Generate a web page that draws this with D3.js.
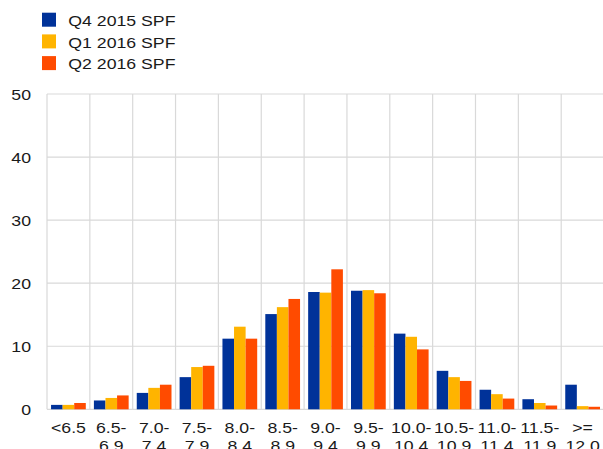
<!DOCTYPE html>
<meta charset="utf-8">
<script src="https://d3js.org/d3.v7.min.js"></script>
<style>
  body { margin: 0; background: #fff; }
  text { font-family: "Liberation Sans", Arial, sans-serif; fill: #1a1a1a; }
</style>
<div id="my_dataviz"></div>
<script>

// categories (two-line labels)
var categories = ["<6.5", "6.5-6.9", "7.0-7.4", "7.5-7.9", "8.0-8.4", "8.5-8.9", "9.0-9.4",
                  "9.5-9.9", "10.0-10.4", "10.5-10.9", "11.0-11.4", "11.5-11.9", ">=12.0"];
var labelTop = ["<6.5", "6.5-", "7.0-", "7.5-", "8.0-", "8.5-", "9.0-", "9.5-", "10.0-", "10.5-", "11.0-", "11.5-", ">="];
var labelBottom = ["", "6.9", "7.4", "7.9", "8.4", "8.9", "9.4", "9.9", "10.4", "10.9", "11.4", "11.9", "12.0"];

var seriesNames = ["Q4 2015 SPF", "Q1 2016 SPF", "Q2 2016 SPF"];
var q4_2015 = [0.7, 1.4, 2.6, 5.1, 11.2, 15.1, 18.6, 18.8, 12.0, 6.1, 3.1, 1.6, 3.9];
var q1_2016 = [0.7, 1.8, 3.4, 6.7, 13.1, 16.2, 18.5, 18.9, 11.5, 5.1, 2.4, 1.0, 0.5];
var q2_2016 = [1.0, 2.2, 3.9, 6.9, 11.2, 17.5, 22.2, 18.4, 9.5, 4.5, 1.7, 0.6, 0.4];
var yTicks = [0, 10, 20, 30, 40, 50];

var colors = ["#003299", "#ffb400", "#ff4b00"];
var seriesValues = [q4_2015, q1_2016, q2_2016];

var W = 603, H = 449;
var margin = {top: 94, left: 47, bottom: 40};
var stretch = 1.18;   // text in the original is drawn horizontally widened

var svg = d3.select("#my_dataviz")
  .append("svg")
    .attr("width", W)
    .attr("height", H)
    .style("display", "block");

var x = d3.scaleBand()
    .domain(categories)
    .range([margin.left, margin.left + 13 * 42.85])
    .padding(0);

var x1 = d3.scaleBand()
    .domain(seriesNames)
    .range([0, x.bandwidth()])
    .paddingInner(0)
    .paddingOuter(0.35);

var y = d3.scaleLinear()
    .domain([0, 50])
    .range([409.3, margin.top]);

var color = d3.scaleOrdinal().domain(seriesNames).range(colors);

// grid lines
var grid = svg.append("g");
grid.selectAll(".hgrid")
  .data(yTicks)
  .enter().append("line")
    .attr("x1", margin.left)
    .attr("x2", W)
    .attr("y1", function(d) { return y(d); })
    .attr("y2", function(d) { return y(d); })
    .attr("stroke", "#d9d9d9")
    .attr("stroke-width", 1.2);
grid.selectAll(".vgrid")
  .data(categories)
  .enter().append("line")
    .attr("x1", function(d) { return x(d); })
    .attr("x2", function(d) { return x(d); })
    .attr("y1", y(50))
    .attr("y2", y(0))
    .attr("stroke", "#d9d9d9")
    .attr("stroke-width", 1.2);

// y labels
svg.selectAll(".ylab")
  .data(yTicks)
  .enter().append("g")
    .attr("transform", function(d) { return "translate(31," + (y(d) + 5.5) + ") scale(" + stretch + ",1)"; })
  .append("text")
    .attr("text-anchor", "end")
    .style("font-size", "15px")
    .text(function(d) { return d; });

// bars
var rows = categories.map(function(c, i) {
  var r = {group: c};
  seriesNames.forEach(function(s, j) { r[s] = seriesValues[j][i]; });
  return r;
});

svg.append("g")
  .selectAll("g")
  .data(rows)
  .enter().append("g")
    .attr("transform", function(d) { return "translate(" + x(d.group) + ",0)"; })
  .selectAll("rect")
  .data(function(d) { return seriesNames.map(function(s) { return {key: s, value: d[s]}; }); })
  .enter().append("rect")
    .attr("x", function(d) { return x1(d.key); })
    .attr("y", function(d) { return y(d.value); })
    .attr("width", x1.bandwidth())
    .attr("height", function(d) { return y(0) - y(d.value); })
    .attr("fill", function(d) { return color(d.key); });

// x labels
var xl = svg.selectAll(".xlab")
  .data(categories)
  .enter().append("g")
    .attr("transform", function(d) { return "translate(" + (x(d) + x.bandwidth() / 2) + ",0) scale(" + stretch + ",1)"; });
xl.append("text")
    .attr("y", 433.5)
    .attr("text-anchor", "middle")
    .style("font-size", "15px")
    .text(function(d, i) { return labelTop[i]; });
xl.append("text")
    .attr("y", 451)
    .attr("text-anchor", "middle")
    .style("font-size", "15px")
    .text(function(d, i) { return labelBottom[i]; });

// legend
var legend = svg.selectAll(".legend")
  .data(seriesNames)
  .enter().append("g")
    .attr("transform", function(d, i) { return "translate(42," + (12.7 + i * 21.7) + ")"; });
legend.append("rect")
    .attr("width", 14)
    .attr("height", 14)
    .attr("fill", function(d) { return color(d); });
legend.append("g")
    .attr("transform", "translate(26.3,13.3) scale(" + stretch + ",1)")
  .append("text")
    .style("font-size", "15px")
    .text(function(d) { return d; });

</script>
